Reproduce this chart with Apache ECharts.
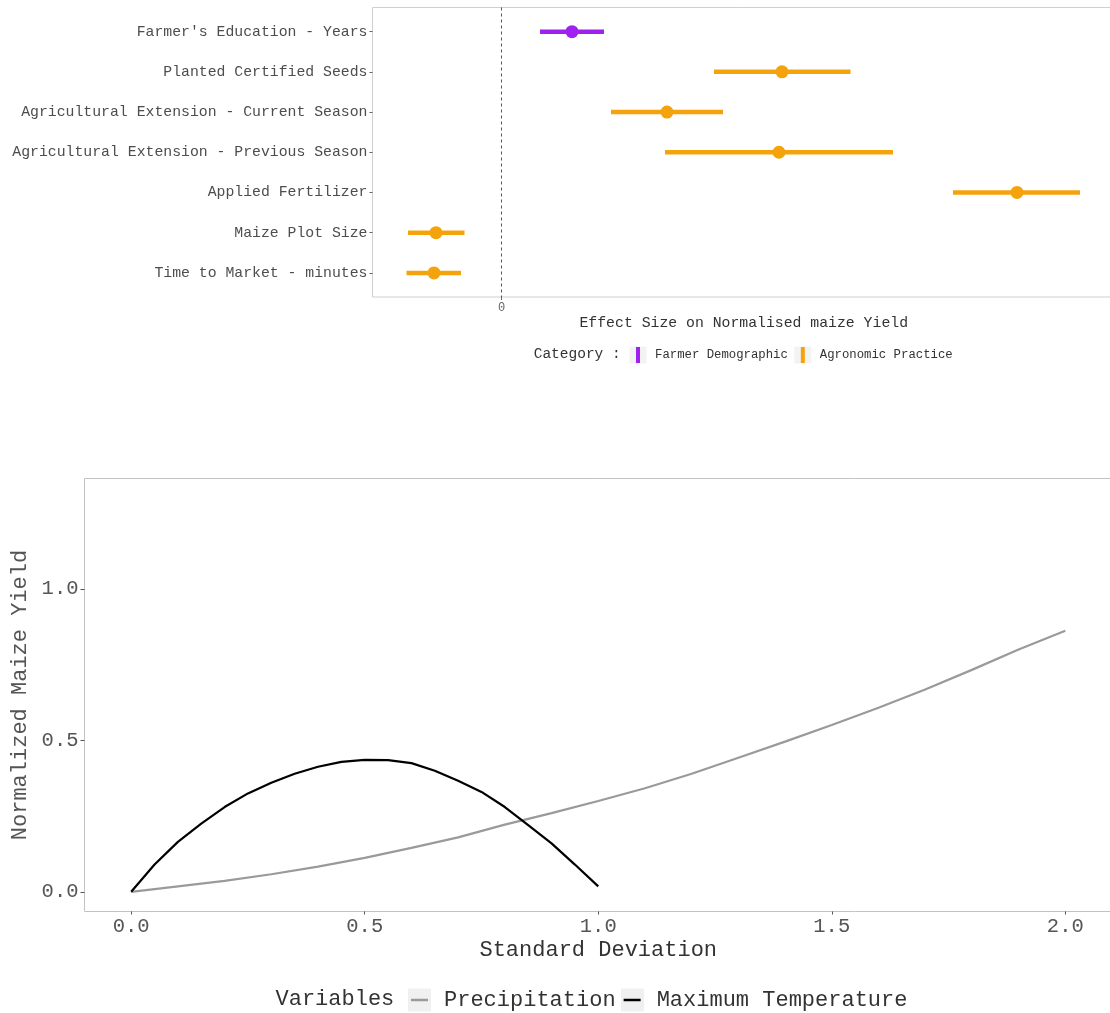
<!DOCTYPE html>
<html>
<head>
<meta charset="utf-8">
<script src="https://cdn.jsdelivr.net/npm/echarts@6/dist/echarts.min.js"></script>
<style>html,body{margin:0;padding:0;background:#fff}#c{width:1110px;height:1013px}</style>
</head>
<body>
<div id="c"></div>
<script>
// ---- Top chart data (effect sizes) ----
const categories = ["Farmer's Education - Years", "Planted Certified Seeds", "Agricultural Extension - Current Season", "Agricultural Extension - Previous Season", "Applied Fertilizer", "Maize Plot Size", "Time to Market - minutes"];
const categoryGroup = ["Farmer Demographic", "Agronomic Practice", "Agronomic Practice", "Agronomic Practice", "Agronomic Practice", "Agronomic Practice", "Agronomic Practice"];
const estimates = [0.0705, 0.2805, 0.1655, 0.2775, 0.5155, -0.0655, -0.0675];
const lower = [0.0385, 0.2125, 0.1095, 0.1635, 0.4515, -0.0935, -0.0950];
const upper = [0.1025, 0.3490, 0.2215, 0.3915, 0.5785, -0.0370, -0.0405];
const groups = ["Farmer Demographic", "Agronomic Practice"];
const effectTicks = [0];

// ---- Bottom chart data (response curves) ----
const tempX = [0, 0.05, 0.1, 0.15, 0.2, 0.25, 0.3, 0.35, 0.4, 0.45, 0.5, 0.55, 0.6, 0.65, 0.7, 0.75, 0.8, 0.85, 0.9, 0.95, 1.0];
const tempY = [0, 0.09, 0.165, 0.225, 0.28, 0.325, 0.36, 0.39, 0.413, 0.429, 0.436, 0.435, 0.425, 0.40, 0.367, 0.33, 0.28, 0.22, 0.16, 0.09, 0.018];
const precipX = [0, 0.1, 0.2, 0.3, 0.4, 0.5, 0.6, 0.7, 0.8, 0.9, 1.0, 1.1, 1.2, 1.3, 1.4, 1.5, 1.6, 1.7, 1.8, 1.9, 2.0];
const precipY = [0, 0.018, 0.036, 0.058, 0.083, 0.112, 0.145, 0.18, 0.222, 0.26, 0.30, 0.342, 0.39, 0.443, 0.496, 0.551, 0.608, 0.668, 0.733, 0.80, 0.862];
const sdTicks = [0, 0.5, 1.0, 1.5, 2.0];
const yieldTicks = [0, 0.5, 1.0];

const colors = {"Farmer Demographic": "#a020f0", "Agronomic Practice": "#f5a30c"};
const FONT = "'Liberation Mono', 'DejaVu Sans Mono', monospace";

const chart = echarts.init(document.getElementById('c'), null, {renderer: 'canvas'});

const series = [];
groups.forEach(function (g, gi) {
  const idx = categories.map((c, i) => i).filter(i => categoryGroup[i] === g);
  const s = {
    name: g,
    type: 'custom',
    xAxisIndex: 0, yAxisIndex: 0,
    itemStyle: {color: colors[g]},
    encode: {x: [0, 1], y: 2},
    data: idx.map(i => [lower[i], upper[i], i]),
    renderItem: function (params, api) {
      const y = api.value(2);
      const p1 = api.coord([api.value(0), y]);
      const p2 = api.coord([api.value(1), y]);
      return {type: 'line', shape: {x1: p1[0], y1: p1[1], x2: p2[0], y2: p2[1]},
              style: {stroke: colors[g], lineWidth: 4.5, lineCap: 'butt'}};
    },
    z: 3
  };
  if (gi === 0) {
    s.markLine = {
      silent: true, symbol: 'none', label: {show: false},
      lineStyle: {color: '#555', type: [3, 3], width: 1},
      data: [{xAxis: 0}]
    };
  }
  series.push(s);
  series.push({
    name: g, type: 'scatter', xAxisIndex: 0, yAxisIndex: 0,
    symbolSize: 13, itemStyle: {color: colors[g], opacity: 1},
    data: idx.map(i => [estimates[i], i]), z: 4
  });
});

series.push({
  name: 'Precipitation', type: 'line', xAxisIndex: 1, yAxisIndex: 1,
  showSymbol: false, smooth: false, lineStyle: {color: '#9a9a9a', width: 2.2}, itemStyle: {color: '#9a9a9a'},
  data: precipX.map((x, i) => [x, precipY[i]])
});
series.push({
  name: 'Maximum Temperature', type: 'line', xAxisIndex: 1, yAxisIndex: 1,
  showSymbol: false, smooth: false, lineStyle: {color: '#000', width: 2.2}, itemStyle: {color: '#000'},
  data: tempX.map((x, i) => [x, tempY[i]])
});

const option = {
  animation: false,
  backgroundColor: '#fff',
  textStyle: {fontFamily: FONT},
  grid: [
    {left: 372.5, top: 7.5, right: -5, bottom: 716, show: true, borderColor: '#cfcfcf', borderWidth: 1, containLabel: false, outerBoundsMode: 'none'},
    {left: 84.5, top: 478.5, right: -2, bottom: 101.5, show: true, borderColor: '#c2c2c2', borderWidth: 1, containLabel: false, outerBoundsMode: 'none'}
  ],
  xAxis: [
    {type: 'value', gridIndex: 0, min: -0.129, max: 0.6135,
     axisLine: {show: false, onZero: false}, splitLine: {show: false},
     axisTick: {show: true, length: 3, lineStyle: {color: '#666'}, customValues: effectTicks},
     axisLabel: {show: true, customValues: effectTicks, margin: 5, fontSize: 12, color: '#666', fontFamily: FONT},
     name: 'Effect Size on Normalised maize Yield', nameLocation: 'middle', nameGap: 19,
     nameTextStyle: {fontSize: 14.8, color: '#333', fontFamily: FONT}},
    {type: 'value', gridIndex: 1, min: -0.1, max: 2.1,
     axisLine: {show: false, onZero: false}, splitLine: {show: false},
     axisTick: {show: true, length: 3, lineStyle: {color: '#555'}, customValues: sdTicks},
     axisLabel: {show: true, customValues: sdTicks, margin: 5, fontSize: 20.5, color: '#555', fontFamily: FONT,
                 formatter: v => v.toFixed(1)},
     name: 'Standard Deviation', nameLocation: 'middle', nameGap: 28,
     nameTextStyle: {fontSize: 22, color: '#333', fontFamily: FONT}}
  ],
  yAxis: [
    {type: 'value', gridIndex: 0, min: -0.6, max: 6.6, inverse: true,
     axisLine: {show: false, onZero: false}, splitLine: {show: false},
     axisTick: {show: true, length: 3, lineStyle: {color: '#666'}, customValues: categories.map((c, i) => i)},
     axisLabel: {show: true, customValues: categories.map((c, i) => i), margin: 5, fontSize: 14.8, color: '#4d4d4d', fontFamily: FONT,
                 formatter: v => categories[Math.round(v)]}},
    {type: 'value', gridIndex: 1, min: -0.065, max: 1.365,
     axisLine: {show: false, onZero: false}, splitLine: {show: false},
     axisTick: {show: true, length: 4, lineStyle: {color: '#555'}, customValues: yieldTicks},
     axisLabel: {show: true, customValues: yieldTicks, margin: 6, fontSize: 20.5, color: '#555', fontFamily: FONT,
                 formatter: v => v.toFixed(1)},
     name: 'Normalized Maize Yield', nameLocation: 'middle', nameGap: 46, nameRotate: 90,
     nameTextStyle: {fontSize: 22, color: '#555', fontFamily: FONT}}
  ],
  legend: [
    {data: groups.map(g => ({name: g, itemStyle: {color: colors[g]}})), selectedMode: false,
     icon: 'rect', itemWidth: 4, itemHeight: 16, itemGap: 13, left: 636, top: 347, padding: 0, z: 10,
     textStyle: {fontSize: 12.3, color: '#333', fontFamily: FONT, padding: [0, 0, 0, 10]}},
    {data: [{name: 'Precipitation', itemStyle: {color: '#9a9a9a'}}, {name: 'Maximum Temperature', itemStyle: {color: '#000'}}],
     selectedMode: false, icon: 'rect', itemWidth: 17, itemHeight: 2.5, itemGap: 8, left: 411, top: 989, padding: 0, z: 10,
     textStyle: {fontSize: 22, color: '#333', fontFamily: FONT, padding: [0, 0, 0, 11]}}
  ],
  graphic: [
    {type: 'rect', z: 1, shape: {x: 629.5, y: 346.5, width: 17, height: 17}, style: {fill: '#f3f3f3'}},
    {type: 'rect', z: 1, shape: {x: 794.3, y: 346.5, width: 17, height: 17}, style: {fill: '#f3f3f3'}},
    {type: 'rect', z: 1, shape: {x: 408, y: 988.5, width: 23, height: 23}, style: {fill: '#f0f0f0'}},
    {type: 'rect', z: 1, shape: {x: 621, y: 988.5, width: 23, height: 23}, style: {fill: '#f0f0f0'}},
    {type: 'text', z: 5, left: 533.7, top: 346.5, style: {text: 'Category :', fontSize: 14.5, fill: '#333', fontFamily: FONT}},
    {type: 'text', z: 5, left: 275.5, top: 988.5, style: {text: 'Variables', fontSize: 22, fill: '#333', fontFamily: FONT}}
  ],
  series: series
};
chart.setOption(option);
</script>
</body>
</html>
